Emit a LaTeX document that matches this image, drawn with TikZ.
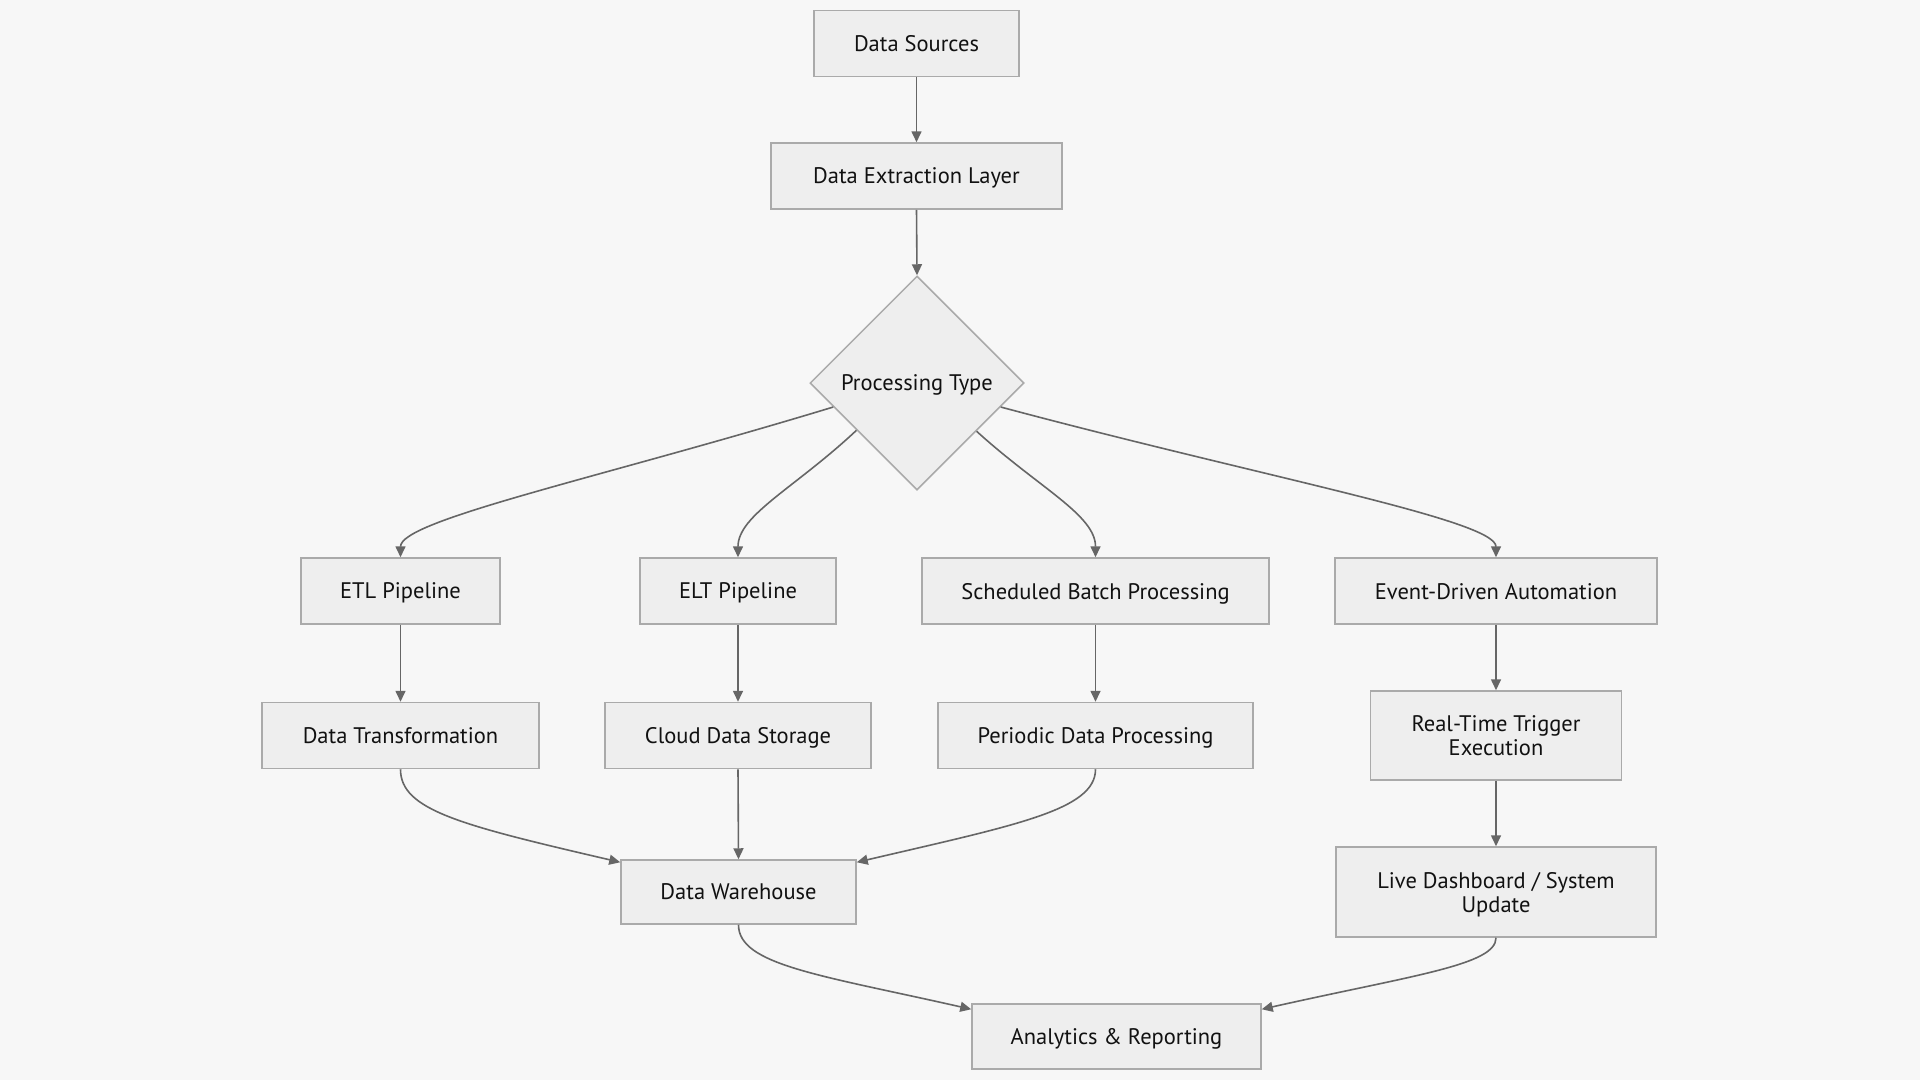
\documentclass[tikz,border=0pt]{standalone}
\usepackage{fontspec}
\setmainfont{PT Sans}
\usetikzlibrary{shapes.geometric,arrows.meta}
\definecolor{bgc}{HTML}{F7F7F7}
\definecolor{fillc}{HTML}{EEEEEE}
\definecolor{strokec}{HTML}{AAAAAA}
\definecolor{linec}{HTML}{666666}
\definecolor{textc}{HTML}{111111}
\begin{document}
\begin{tikzpicture}[x=1pt,y=1pt,
  box/.style={draw=strokec, fill=fillc, line width=1.5pt, inner sep=0pt,
    minimum height=66pt, text=textc, align=center, text depth=0pt,
    font=\fontsize{22.5}{24}\selectfont},
  dia/.style={diamond, draw=strokec, fill=fillc, line width=1.5pt, inner sep=0pt,
    minimum size=214pt, aspect=1, text=textc, text depth=0pt,
    font=\fontsize{22.5}{24}\selectfont},
  arr/.style={draw=linec, line width=1.6pt, -{Triangle[length=11pt,width=10pt]}}]
\fill[bgc] (0,0) rectangle (1920,-1080);
\useasboundingbox (0,0) rectangle (1920,-1080);

\node[box, minimum width=205pt] (ds) at (916.5,-43.5) {Data Sources};
\node[box, minimum width=291pt] (del) at (916.5,-176) {Data Extraction Layer};
\node[dia] (pt) at (917,-383) {Processing Type};

\node[box, minimum width=199pt] (etl) at (400.5,-591) {ETL Pipeline};
\node[box, minimum width=196pt] (elt) at (738,-591) {ELT Pipeline};
\node[box, minimum width=347pt] (sbp) at (1095.5,-591) {Scheduled Batch Processing};
\node[box, minimum width=322pt] (eda) at (1496,-591) {Event-Driven Automation};

\node[box, minimum width=277pt] (dt) at (400.5,-735.5) {Data Transformation};
\node[box, minimum width=266pt] (cds) at (738,-735.5) {Cloud Data Storage};
\node[box, minimum width=315pt] (pdp) at (1095.5,-735.5) {Periodic Data Processing};
\node[box, minimum width=251pt, minimum height=89pt] (rtt) at (1496,-735.5) {Real-Time Trigger\\Execution};

\node[box, minimum width=235pt, minimum height=64pt] (dw) at (738.5,-892) {Data Warehouse};
\node[box, minimum width=320pt, minimum height=90pt] (ldu) at (1496,-892) {Live Dashboard / System\\Update};

\node[box, minimum width=289pt, minimum height=65pt] (ar) at (1116.5,-1036.5) {Analytics \& Reporting};

\draw[arr] (ds.south) -- (del.north);
\draw[arr] (del.south) -- (pt.north);

\draw[arr] (pt.196.6) .. controls (600,-478) and (400.5,-520) .. (etl.north);
\draw[arr] (pt.218.7) .. controls (795,-488) and (738,-515) .. (elt.north);
\draw[arr] (pt.321.3) .. controls (1039,-488) and (1095.5,-515) .. (sbp.north);
\draw[arr] (pt.344) .. controls (1262,-477) and (1496,-520) .. (eda.north);

\draw[arr] (etl.south) -- (dt.north);
\draw[arr] (elt.south) -- (cds.north);
\draw[arr] (sbp.south) -- (pdp.north);
\draw[arr] (eda.south) -- (rtt.north);
\draw[arr] (rtt.south) -- (ldu.north);

\draw[arr] (dt.south) .. controls (400.5,-810) and (460,-825) .. ([yshift=-3pt]dw.north west);
\draw[arr] (cds.south) -- (dw.north);
\draw[arr] (pdp.south) .. controls (1095.5,-810) and (1016,-825) .. ([yshift=-3pt]dw.north east);

\draw[arr] (dw.south) .. controls (738.5,-965) and (820,-975) .. ([yshift=-6pt]ar.north west);
\draw[arr] (ldu.south) .. controls (1496,-965) and (1414,-975) .. ([yshift=-6pt]ar.north east);
\end{tikzpicture}
\end{document}
